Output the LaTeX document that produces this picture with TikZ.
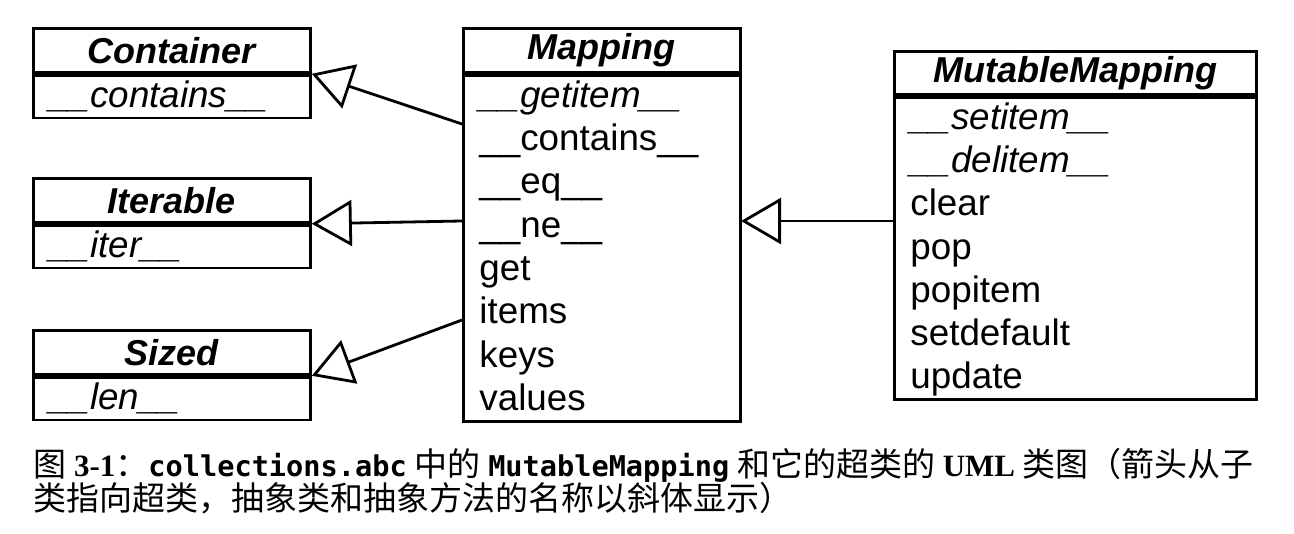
\documentclass[tikz,border=0pt]{standalone}
\usepackage{fontspec}
\setmainfont{Liberation Serif}
\setmonofont{DejaVu Sans Mono}
\newfontfamily\umlfont{Liberation Sans}
\newfontfamily\cjk{Noto Sans CJK SC}
\newcommand\zh[1]{{\cjk\fontsize{16.5}{19}\selectfont #1}}
\newcommand\code[1]{{\ttfamily\bfseries\fontsize{14.3}{17}\selectfont #1}}
\newcommand\padabove{\noindent\vrule height16pt depth0pt width0pt}
\newcommand\padbelow{\vrule height0pt depth5.4pt width0pt}
\usetikzlibrary{arrows.meta}

\begin{document}
\begin{tikzpicture}[x=0.5pt,y=-0.5pt,
    classhd/.style={draw,line width=1.4pt,anchor=north west,inner sep=0pt,minimum width=138.5pt,minimum height=22pt,font=\umlfont\fontsize{18}{21.6}\selectfont\bfseries\itshape},
    classbd/.style={draw,line width=1.4pt,anchor=north west,inner xsep=8pt,inner ysep=0pt,text width=122.5pt,align=left,minimum height=21pt,font=\umlfont\fontsize{18.4}{21.65}\selectfont,execute at begin node=\padabove,execute at end node=\padbelow},
    inherit/.style={line width=1.4pt,-{Triangle[open,length=20pt,width=23pt,line width=1.4pt]}},
    caption/.style={anchor=base west,inner sep=0pt,font=\fontsize{15.5}{18}\selectfont}]
  \useasboundingbox (0,0) rectangle (1294,534);
  % superclasses on the left
  \node[classhd] (container) at (32,27) {Container}; \node[classbd] (containerops) at (container.south west) {\itshape\_\_contains\_\_};
  \node[classhd] (iterable) at (32,177) {Iterable}; \node[classbd] (iterableops) at (iterable.south west) {\itshape\_\_iter\_\_};
  \node[classhd] (sized) at (32,329) {Sized}; \node[classbd] (sizedops) at (sized.south west) {\itshape\_\_len\_\_};
  % Mapping and MutableMapping
  \node[classhd] (mapping) at (462,27) {Mapping};
  \node[classbd,minimum height=173pt] (mappingops) at (mapping.south west) {{\itshape\_\_getitem\_\_}\\\_\_contains\_\_\\\_\_eq\_\_\\\_\_ne\_\_\\get\\items\\keys\\values};
  \node[classhd,minimum width=181pt,minimum height=21.5pt] (mutable) at (893,50) {MutableMapping};
  \node[classbd,text width=165pt,minimum height=151pt] (mutableops) at (mutable.south west) {{\itshape\_\_setitem\_\_}\\{\itshape\_\_delitem\_\_}\\clear\\pop\\popitem\\setdefault\\update};

  \coordinate (m1) at (462,124); \coordinate (m2) at (462,221); \coordinate (m3) at (462,320);
  \coordinate (mm) at (893,221); \coordinate (mp) at (741,221);
  \draw[inherit] (m1) -- (container.south east); \draw[inherit] (m2) -- (iterable.south east); \draw[inherit] (m3) -- (sized.south east);
  \draw[inherit] (mm) -- (mp);

  \node[caption] (cap1) at (33,476) {\zh{图} \textbf{3-1}\zh{：}\code{collections.abc} \zh{中的} \code{MutableMapping} \zh{和它的超类的} \textbf{UML} \zh{类图（箭头从子}};
  \node[caption] (cap2) at (33,510) {\zh{类指向超类，抽象类和抽象方法的名称以斜体显示）}};
\end{tikzpicture}
\end{document}
